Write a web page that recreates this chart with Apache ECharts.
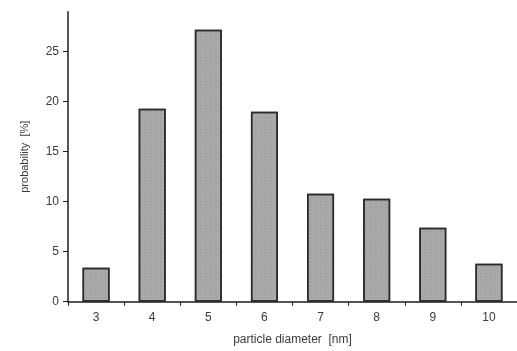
<!DOCTYPE html>
<html>
<head>
<meta charset="utf-8">
<script src="https://cdn.jsdelivr.net/npm/echarts@6/dist/echarts.min.js"></script>
<style>
    html, body { margin: 0; padding: 0; background: #fff; }
    #chart { width: 517px; height: 351px; }
</style>
</head>
<body>
<div id="chart"></div>
<script>
// particle size distribution
var diameters = ['3', '4', '5', '6', '7', '8', '9', '10'];
var probability = [3.4, 19.3, 27.2, 19.0, 10.8, 10.3, 7.4, 3.8];
var yTicks = [0, 5, 10, 15, 20, 25];

var chart = echarts.init(document.getElementById('chart'));
var textColor = '#3a3a3a';
var lineColor = '#1e1e1e';

var option = {
    animation: false,
    backgroundColor: '#fff',
    textStyle: {
        fontFamily: 'Liberation Sans, Arial, sans-serif'
    },
    grid: {
        left: 68,
        right: -5,
        top: 11.7,
        bottom: 49.3,
        containLabel: false
    },
    xAxis: {
        type: 'category',
        data: diameters,
        boundaryGap: true,
        name: 'particle diameter  [nm]',
        nameLocation: 'middle',
        nameGap: 32,
        nameTextStyle: { color: textColor, fontSize: 12 },
        axisLine: { lineStyle: { color: lineColor, width: 1.5 } },
        axisTick: { show: true, length: 4, lineStyle: { color: lineColor } },
        axisLabel: { color: textColor, fontSize: 12, margin: 10 },
        splitLine: { show: false }
    },
    yAxis: {
        type: 'value',
        min: 0,
        max: 29,
        interval: 5,
        name: 'probability  [%]',
        nameLocation: 'middle',
        nameRotate: 90,
        nameGap: 38,
        nameTextStyle: { color: textColor, fontSize: 11 },
        axisLine: { show: true, lineStyle: { color: lineColor, width: 1.5 } },
        axisTick: { show: true, length: 5, customValues: yTicks, lineStyle: { color: lineColor } },
        axisLabel: { color: textColor, fontSize: 12, margin: 9, customValues: yTicks },
        splitLine: { show: false }
    },
    series: [
        {
            type: 'bar',
            data: probability,
            barWidth: 27,
            itemStyle: {
                color: '#a9a9a9',
                borderColor: '#2a2a2a',
                borderWidth: 1.5,
                decal: {
                    symbol: 'rect',
                    symbolSize: 0.5,
                    dashArrayX: [[2, 3], [1, 4]],
                    dashArrayY: [1, 2],
                    rotation: 0,
                    color: 'rgba(60,60,60,0.45)'
                }
            }
        }
    ]
};

chart.setOption(option);
</script>
</body>
</html>
